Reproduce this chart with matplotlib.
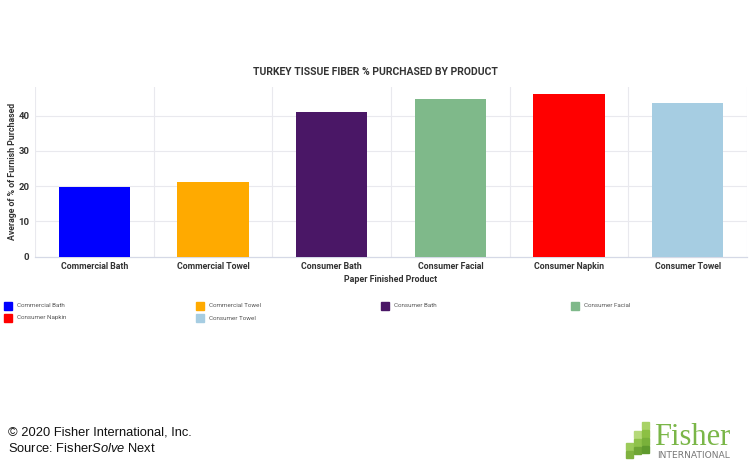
import matplotlib
matplotlib.use("Agg")
import matplotlib.pyplot as plt
from matplotlib.patches import Rectangle
import numpy as np

plt.rcParams["font.family"] = ["Roboto", "DejaVu Sans"]
plt.rcParams["mathtext.fontset"] = "custom"
plt.rcParams["mathtext.rm"] = "Liberation Sans"
plt.rcParams["mathtext.it"] = "Liberation Sans:italic"

# data
products = ["Commercial Bath", "Commercial Towel", "Consumer Bath",
            "Consumer Facial", "Consumer Napkin", "Consumer Towel"]
avg_pct = [19.9, 21.2, 41.0, 44.7, 46.2, 43.5]
colors = ["#0000ff", "#ffaa00", "#4a1766", "#7fb98a", "#ff0000", "#a6cde2"]
yticks = [0, 10, 20, 30, 40]

W, H = 750, 469
fig = plt.figure(figsize=(W / 100, H / 100), dpi=100)
ax = fig.add_axes([35 / W, 1 - 256.7 / H, (747 - 35) / W, (256.7 - 86.7) / H])

x = np.arange(len(products))
ax.bar(x, avg_pct, width=0.6, color=colors, zorder=3)

ax.set_xlim(-0.5, len(products) - 0.5)
ax.set_ylim(0, 48.2)
ax.set_yticks(yticks)
ax.set_xticks(x)
ax.set_xticklabels(products, fontsize=6.3, fontweight="bold", color="#333333")
for t in ax.get_yticklabels():
    t.set_fontsize(6.8)
    t.set_fontweight("bold")
    t.set_color("#333333")
ax.tick_params(length=0, pad=4)

# grid: horizontal at ticks, vertical between categories
for v in yticks[1:]:
    ax.axhline(v, color="#e9e9ee", lw=0.8, zorder=1)
for b in np.arange(len(products) + 1) - 0.5:
    ax.axvline(b, color="#e9e9ee", lw=0.8, zorder=1)
for s in ["top", "right", "left"]:
    ax.spines[s].set_visible(False)
ax.spines["bottom"].set_color("#d5d9e6")
ax.spines["bottom"].set_linewidth(0.9)

ax.set_xlabel("Paper Finished Product", fontsize=6.4, fontweight="bold",
              color="#333333", labelpad=3)
ax.set_ylabel("Average of % of Furnish Purchased", fontsize=6.3,
              fontweight="bold", color="#333333", labelpad=1)
fig.text(375 / W, 1 - 72 / H, "TURKEY TISSUE FIBER % PURCHASED BY PRODUCT",
         ha="center", va="center", fontsize=7.5, fontweight="bold",
         color="#333333")

# legend, 4 columns
LEG_X = [4, 196, 381, 571]
LEG_Y = [305.5, 318]
for i, (name, c) in enumerate(zip(products, colors)):
    row, col = divmod(i, 4)
    px, py = LEG_X[col], LEG_Y[row]
    fig.patches.append(Rectangle((px / W, 1 - (py + 4) / H), 8 / W, 8 / H,
                                 transform=fig.transFigure, color=c))
    fig.text((px + 13) / W, 1 - py / H, name, fontsize=4.5, color="#555555",
             va="center", ha="left")

# footer
fig.text(8 / W, 1 - 432 / H, "\u00a9 2020 Fisher International, Inc.",
         family="Liberation Sans", fontsize=9.3, color="#111111", va="center")
fig.text(8 / W, 1 - 448 / H, r"Source: Fisher$\mathit{Solve}$ Next",
         family="Liberation Sans", fontsize=9.3, color="#111111", va="center")

# logo
logo_sq = [(626, 443, "#9ccb5a"), (626, 451, "#7fb23f"),
           (634, 431, "#b6d97a"), (634, 439, "#8fc24a"), (634, 447, "#6fa535"),
           (642, 422, "#a8d266"), (642, 430, "#8cc043"), (642, 438, "#79b13a"),
           (642, 446, "#5f9a2d")]
for sx, sy, sc in logo_sq:
    fig.patches.append(Rectangle((sx / W, 1 - (sy + 7) / H), 7 / W, 7 / H,
                                 transform=fig.transFigure, color=sc))
fig.text(654 / W, 1 - 445 / H, "Fisher", family="Liberation Serif",
         fontsize=22, color="#7ab648", va="baseline", ha="left")
fig.text(657 / W, 1 - 455 / H, "INTERNATIONAL", family="DejaVu Sans",
         fontsize=6.6, color="#777777", va="center", ha="left")

fig.savefig("out.png", dpi=100)
